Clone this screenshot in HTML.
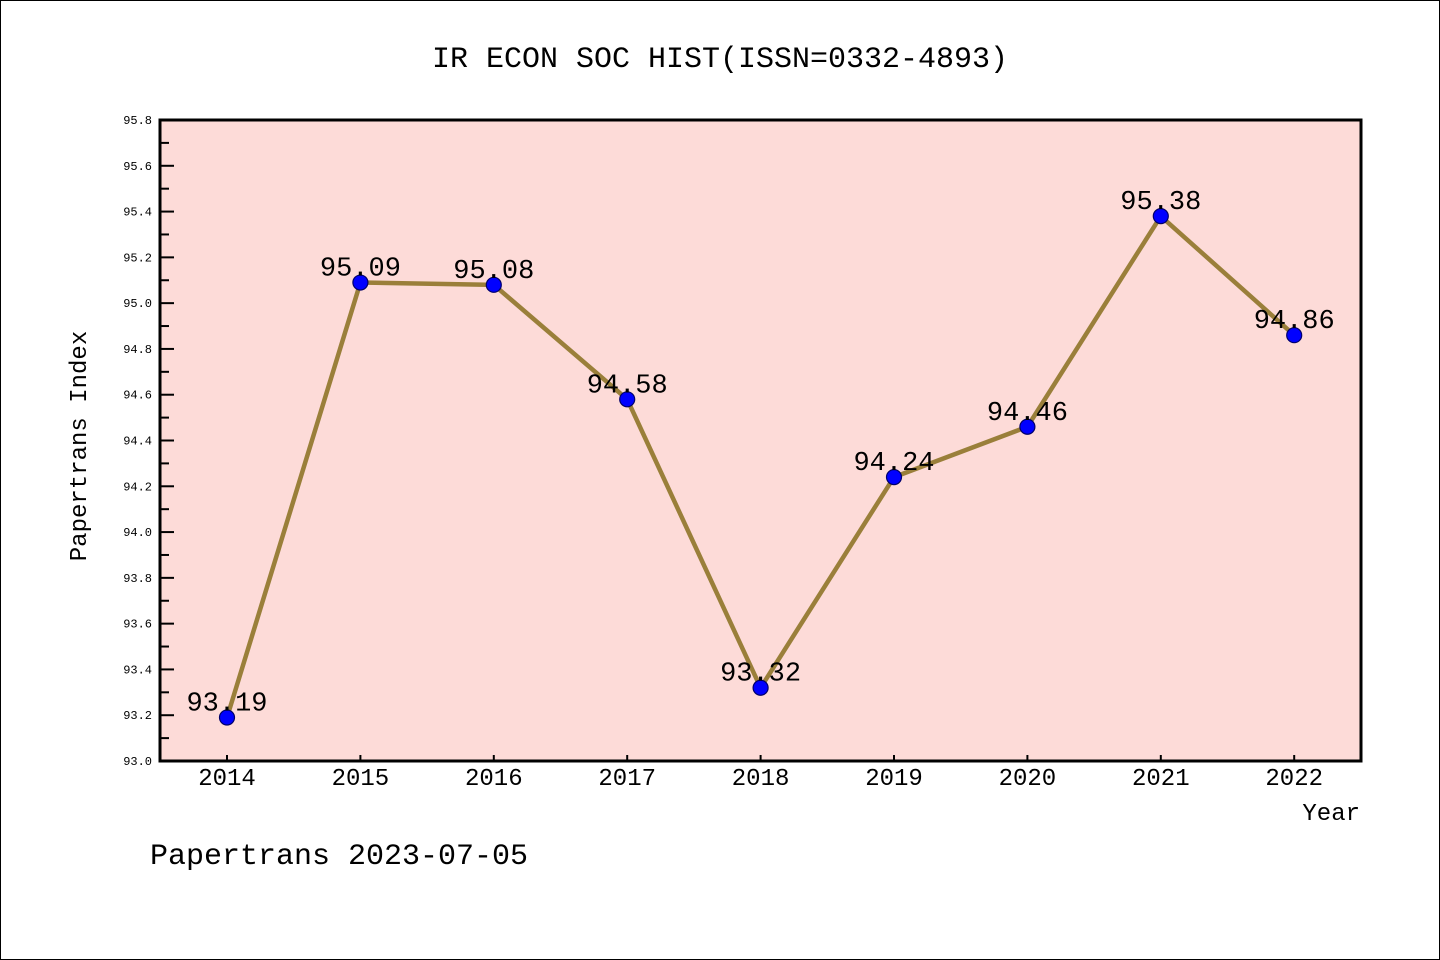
<!DOCTYPE html>
<html><head><meta charset="utf-8"><style>
body{margin:0;background:#fff}
svg{display:block}
text{font-family:"Liberation Mono","DejaVu Sans Mono",monospace}
</style></head><body>
<svg id="chart" width="1440" height="960" viewBox="0 0 1440 960">
<rect x="0.5" y="0.5" width="1439" height="959" fill="#fff" stroke="#000"/>
<text x="720" y="67" font-size="30" text-anchor="middle">IR ECON SOC HIST(ISSN=0332-4893)</text>
<rect x="160" y="120" width="1201" height="641" fill="#fddbd8"/>
<g id="yaxis"></g>
<g id="xaxis"></g>
<g id="series"></g>
<rect x="160" y="120" width="1201" height="641" fill="none" stroke="#000" stroke-width="3"/>
<text x="86" y="446" font-size="24" text-anchor="middle" transform="rotate(-90 86 446)">Papertrans Index</text>
<text x="1360" y="820" font-size="24" text-anchor="end">Year</text>
<text x="150" y="864" font-size="30">Papertrans 2023-07-05</text>
</svg>
<script>
const years=["2014","2015","2016","2017","2018","2019","2020","2021","2022"];
const values=[93.19,95.09,95.08,94.58,93.32,94.24,94.46,95.38,94.86];
const valueLabels=["93.19","95.09","95.08","94.58","93.32","94.24","94.46","95.38","94.86"];
const yTicks=["93.0","93.2","93.4","93.6","93.8","94.0","94.2","94.4","94.6","94.8","95.0","95.2","95.4","95.6","95.8"];
const NS="http://www.w3.org/2000/svg";
const yMin=93.0,yMax=95.8,plotTop=120,plotBot=761,plotLeft=160;
function ys(v){return plotBot-(v-yMin)/(yMax-yMin)*(plotBot-plotTop);}
function xs(i){return 227+i*133.4;}
function mk(t,a,p){const e=document.createElementNS(NS,t);for(const k in a)e.setAttribute(k,a[k]);p.appendChild(e);return e;}
const ya=document.getElementById('yaxis');
yTicks.forEach((t,i)=>{
 const v=parseFloat(t),y=ys(v);
 const tk=mk('line',{x1:plotLeft,x2:plotLeft+14,y1:y,y2:y,stroke:'#000','stroke-width':2},ya);
 
 
 const lb=mk('text',{x:152,y:y+4,'font-size':12,'text-anchor':'end'},ya);lb.textContent=t;
 
 
 if(i<yTicks.length-1){const ym=ys(v+0.1);
  const mt=mk('line',{x1:plotLeft,x2:plotLeft+9,y1:ym,y2:ym,stroke:'#000','stroke-width':2},ya);
  
  }
});
const xa=document.getElementById('xaxis');
years.forEach((t,i)=>{
 const x=xs(i);
 const tk=mk('line',{x1:x,x2:x,y1:plotBot,y2:plotBot-6,stroke:'#000','stroke-width':2},xa);
 
 
 const lb=mk('text',{x:x,y:785,'font-size':24,'text-anchor':'middle'},xa);lb.textContent=t;
 
 
});
const sg=document.getElementById('series');
const pl=mk('polyline',{points:values.map((v,i)=>xs(i)+','+ys(v)).join(' '),fill:'none',stroke:'#9a7f3a','stroke-width':4.5,'stroke-linejoin':'round'},sg);


values.forEach((v,i)=>{
 const c=mk('circle',{cx:xs(i),cy:ys(v),r:7.5,fill:'#0000ff',stroke:'#00006a','stroke-width':1.2},sg);
 
 
 const l=mk('text',{x:xs(i),y:ys(v)-7,'font-size':27,'text-anchor':'middle'},sg);l.textContent=valueLabels[i];
 
 
});
</script>
</body></html>
